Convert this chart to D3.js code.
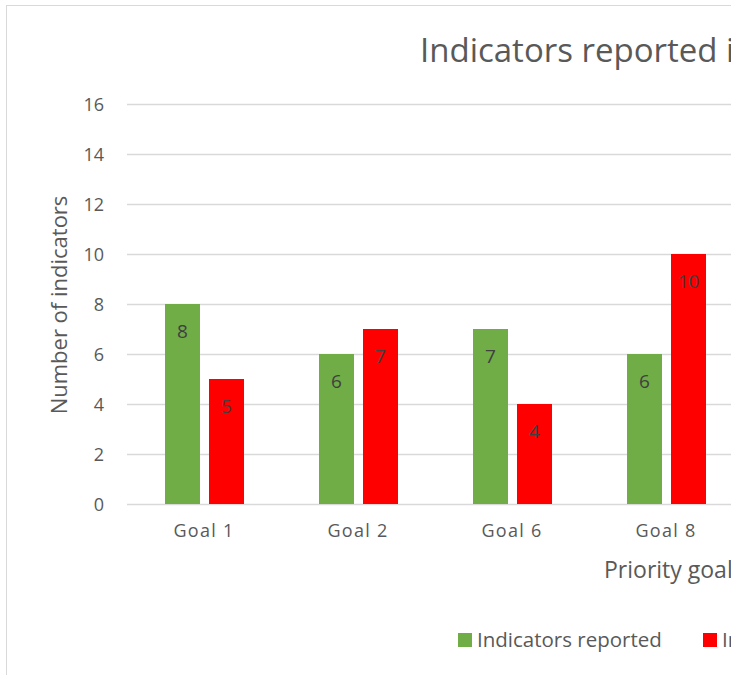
<!DOCTYPE html>
<html>
<head>
<meta charset="utf-8">
<script src="https://cdn.jsdelivr.net/npm/d3@7"></script>
<style>
html, body { margin: 0; padding: 0; overflow: hidden; background: #fff; }
svg { display: block; }
text { font-family: "Open Sans", "Noto Sans", sans-serif; }
</style>
</head>
<body>
<script>
var goals = ["Goal 1", "Goal 2", "Goal 6", "Goal 8"];
var reported = [8, 6, 7, 6];
var notReported = [5, 7, 4, 10];
var yTicks = [0, 2, 4, 6, 8, 10, 12, 14, 16];
var seriesNames = ["Indicators reported", "Indicators not reported"];
var colors = ["#70AD47", "#FF0000"];

window.onload = function() {
  var W = 900, H = 700;
  var svg = d3.select("body").append("svg")
    .attr("width", W).attr("height", H);

  // chart frame
  svg.append("rect")
    .attr("x", 6.5).attr("y", 5.5)
    .attr("width", W).attr("height", H)
    .attr("fill", "#fff").attr("stroke", "#d9d9d9");

  var x = d3.scaleBand().domain(goals).range([127, 127 + 154 * goals.length]);
  var y = d3.scaleLinear().domain([0, 16]).range([504, 104]);

  // gridlines
  svg.append("g").selectAll("line")
    .data(yTicks)
    .enter().append("line")
    .attr("x1", 127).attr("x2", W)
    .attr("y1", function(d) { return Math.round(y(d)) + 0.5; })
    .attr("y2", function(d) { return Math.round(y(d)) + 0.5; })
    .attr("stroke", "#d9d9d9").attr("stroke-width", 1.3);

  // y tick labels
  svg.append("g").selectAll("text")
    .data(yTicks)
    .enter().append("text")
    .attr("x", 104).attr("y", function(d) { return y(d) + 6.5; })
    .attr("text-anchor", "end")
    .attr("font-size", 18).attr("fill", "#595959")
    .text(function(d) { return d; });

  var bw = 35, inner = 9, off = 38;
  var rows = goals.map(function(g, i) {
    return [{ g: g, s: 0, v: reported[i] }, { g: g, s: 1, v: notReported[i] }];
  });
  var flat = d3.merge(rows);

  svg.append("g").selectAll("rect")
    .data(flat)
    .enter().append("rect")
    .attr("x", function(d) { return x(d.g) + off + d.s * (bw + inner); })
    .attr("y", function(d) { return y(d.v); })
    .attr("width", bw)
    .attr("height", function(d) { return y(0) - y(d.v); })
    .attr("fill", function(d) { return colors[d.s]; });

  // value labels (inside end)
  svg.append("g").selectAll("text")
    .data(flat)
    .enter().append("text")
    .attr("x", function(d) { return x(d.g) + off + d.s * (bw + inner) + bw / 2; })
    .attr("y", function(d) { return y(d.v) + 34; })
    .attr("text-anchor", "middle")
    .attr("font-size", 19).attr("fill", "#404040")
    .text(function(d) { return d.v; });

  // x tick labels
  svg.append("g").selectAll("text")
    .data(goals)
    .enter().append("text")
    .attr("x", function(d) { return x(d) + x.bandwidth() / 2; })
    .attr("y", 537)
    .attr("text-anchor", "middle")
    .attr("font-size", 18).attr("letter-spacing", 1.3).attr("fill", "#595959")
    .text(function(d) { return d; });

  // titles
  svg.append("text")
    .attr("x", 420).attr("y", 62)
    .attr("font-size", 33).attr("fill", "#595959")
    .text("Indicators reported in");

  svg.append("text")
    .attr("x", 604).attr("y", 578)
    .attr("font-size", 23).attr("fill", "#595959")
    .text("Priority goals");

  svg.append("text")
    .attr("transform", "translate(67,305) rotate(-90)")
    .attr("text-anchor", "middle")
    .attr("font-size", 22).attr("fill", "#595959")
    .text("Number of indicators");

  // legend
  var lx = [458, 703];
  var leg = svg.append("g").selectAll("g")
    .data(seriesNames)
    .enter().append("g")
    .attr("transform", function(d, i) { return "translate(" + lx[i] + ",633)"; });
  leg.append("rect")
    .attr("width", 14).attr("height", 14)
    .attr("fill", function(d, i) { return colors[i]; });
  leg.append("text")
    .attr("x", 19).attr("y", 14)
    .attr("font-size", 20.5).attr("fill", "#595959")
    .text(function(d) { return d; });
};
</script>
</body>
</html>
